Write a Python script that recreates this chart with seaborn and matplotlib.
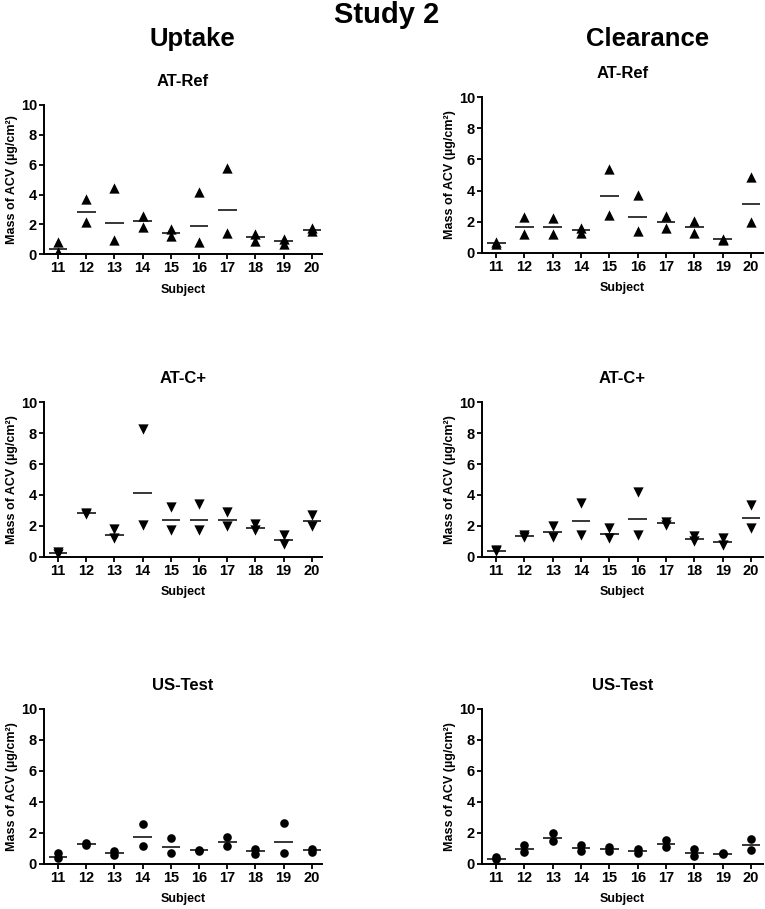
import numpy as np
import pandas as pd
import matplotlib
matplotlib.use("Agg")
import matplotlib.pyplot as plt
import seaborn as sns

# subjects on the x axis
subjects = ["11", "12", "13", "14", "15", "16", "17", "18", "19", "20"]

# Uptake, AT-Ref: two replicates per subject + geometric mean line
uptake_ref_a = [0.85, 3.68, 4.46, 2.59, 1.70, 4.15, 5.76, 1.36, 1.05, 1.76]
uptake_ref_b = [0.15, 2.17, 0.96, 1.85, 1.25, 0.80, 1.45, 0.89, 0.67, 1.54]
uptake_ref_gm = [0.38, 2.86, 2.12, 2.23, 1.45, 1.90, 2.97, 1.16, 0.89, 1.65]

# Clearance, AT-Ref
clear_ref_a = [0.70, 2.27, 2.25, 1.60, 5.39, 3.69, 2.36, 2.04, 0.85, 4.85]
clear_ref_b = [0.56, 1.18, 1.18, 1.29, 2.40, 1.39, 1.61, 1.29, 0.80, 1.95]
clear_ref_gm = [0.64, 1.67, 1.67, 1.46, 3.65, 2.32, 1.97, 1.67, 0.86, 3.11]

# Uptake, AT-C+
uptake_cp_a = [0.32, 2.85, 1.82, 8.27, 3.25, 3.43, 2.91, 2.10, 1.39, 2.72]
uptake_cp_b = [0.20, 2.75, 1.18, 2.06, 1.76, 1.71, 1.97, 1.76, 0.81, 1.97]
uptake_cp_gm = [0.24, 2.80, 1.41, 4.11, 2.38, 2.40, 2.38, 1.86, 1.05, 2.31]

# Clearance, AT-C+
clear_cp_a = [0.43, 1.40, 1.97, 3.49, 1.88, 4.20, 2.27, 1.37, 1.22, 3.36]
clear_cp_b = [0.35, 1.30, 1.28, 1.41, 1.18, 1.41, 2.03, 1.03, 0.77, 1.86]
clear_cp_gm = [0.39, 1.35, 1.61, 2.29, 1.50, 2.44, 2.18, 1.16, 0.96, 2.50]

# Uptake, US-Test
uptake_us_a = [0.69, 1.35, 0.82, 2.56, 1.66, 0.90, 1.70, 0.95, 2.62, 0.92]
uptake_us_b = [0.34, 1.18, 0.56, 1.14, 0.71, 0.85, 1.14, 0.62, 0.71, 0.77]
uptake_us_gm = [0.45, 1.25, 0.67, 1.70, 1.10, 0.88, 1.42, 0.80, 1.38, 0.86]

# Clearance, US-Test
clear_us_a = [0.41, 1.20, 1.98, 1.20, 1.10, 0.95, 1.53, 0.97, 0.67, 1.59]
clear_us_b = [0.28, 0.73, 1.44, 0.80, 0.82, 0.67, 1.05, 0.49, 0.62, 0.86]
clear_us_gm = [0.32, 0.95, 1.68, 0.99, 0.92, 0.82, 1.27, 0.67, 0.65, 1.18]

sns.set_style("ticks")
plt.rcParams["font.family"] = ["Liberation Sans", "DejaVu Sans"]
plt.rcParams["font.weight"] = "bold"
for key in ("text.color", "axes.labelcolor", "xtick.color", "ytick.color"):
    plt.rcParams[key] = "black"

W, H = 765, 909
fig = plt.figure(figsize=(W / 100, H / 100), dpi=100)


def px_axes(left, top, right, bottom):
    return fig.add_axes([left / W, 1 - bottom / H, (right - left) / W, (bottom - top) / H])


def draw_panel(ax, a, b, gm, marker, title, xlim):
    df = pd.DataFrame({
        "Subject": subjects * 2,
        "Mass": a + b,
    })
    sns.stripplot(data=df, x="Subject", y="Mass", order=subjects, jitter=False,
                  marker=marker, color="black", size=7.4 if marker != "o" else 6.2,
                  linewidth=0, ax=ax)
    for i, m in enumerate(gm):
        ax.hlines(m, i - 0.33, i + 0.33, color="black", linewidth=1.1, zorder=3)
    ax.set_ylim(0, 10)
    ax.set_xlim(*xlim)
    ax.set_yticks([0, 2, 4, 6, 8, 10])
    ax.set_title(title, fontsize=12, fontweight="bold", pad=14)
    ax.set_xlabel("Subject", fontsize=9, fontweight="bold", labelpad=6)
    ax.set_ylabel("Mass of ACV (µg/cm²)", fontsize=9, fontweight="bold", labelpad=2)
    ax.tick_params(axis="both", labelsize=10.5, width=1.3, length=3.5, pad=1.5)
    for lab in ax.get_xticklabels() + ax.get_yticklabels():
        lab.set_fontweight("bold")
    sns.despine(ax=ax)
    for sp in ("left", "bottom"):
        ax.spines[sp].set_linewidth(1.4)
        ax.spines[sp].set_color("black")


left_x = (44, 322)
right_x = (482, 763)
xl_left = (-0.5, 9.36)
xl_right = (-0.5, 9.42)

panels = [
    (left_x, (105, 254.3), uptake_ref_a, uptake_ref_b, uptake_ref_gm, "^", "AT-Ref", xl_left),
    (right_x, (97.3, 252.7), clear_ref_a, clear_ref_b, clear_ref_gm, "^", "AT-Ref", xl_right),
    (left_x, (402.3, 556.7), uptake_cp_a, uptake_cp_b, uptake_cp_gm, "v", "AT-C+", xl_left),
    (right_x, (402.3, 556.7), clear_cp_a, clear_cp_b, clear_cp_gm, "v", "AT-C+", xl_right),
    (left_x, (709, 863.7), uptake_us_a, uptake_us_b, uptake_us_gm, "o", "US-Test", xl_left),
    (right_x, (709, 863.7), clear_us_a, clear_us_b, clear_us_gm, "o", "US-Test", xl_right),
]

for (xs, ys, a, b, gm, mk, title, xl) in panels:
    ax = px_axes(xs[0], ys[0], xs[1], ys[1])
    draw_panel(ax, a, b, gm, mk, title, xl)

fig.text(387 / W, 1 - 15 / H, "Study 2", ha="center", va="center", fontsize=21, fontweight="bold")
fig.text(192 / W, 1 - 39 / H, "Uptake", ha="center", va="center", fontsize=18.5, fontweight="bold")
fig.text(648 / W, 1 - 39 / H, "Clearance", ha="center", va="center", fontsize=18.5, fontweight="bold")

fig.savefig("out.png", dpi=100, facecolor="white")
